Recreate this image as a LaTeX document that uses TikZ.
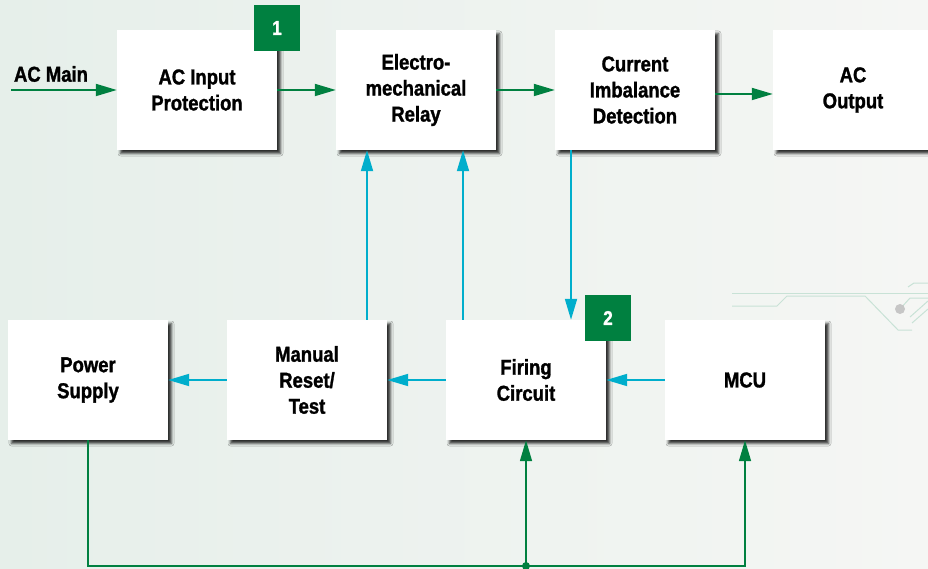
\documentclass[tikz,border=0pt]{standalone}
\usepackage{fontspec}
\newfontfamily\blockfont{Liberation Sans}[FakeStretch=0.86,BoldFeatures={FakeBold=1.3}]
\usetikzlibrary{arrows.meta,shadows.blur}
\definecolor{acgreen}{RGB}{0,128,64}
\definecolor{accyan}{RGB}{0,174,204}
\definecolor{bgleft}{RGB}{230,239,234}
\definecolor{bgright}{RGB}{245,246,244}
\definecolor{trace}{RGB}{200,226,214}
\begin{document}
\begin{tikzpicture}[x=1pt,y=-1pt,
  blk/.style={fill=white,minimum width=160pt,minimum height=120pt,inner sep=0pt,align=center,
    font=\blockfont\bfseries\fontsize{21.5}{26}\selectfont,
    blur shadow={shadow xshift=3.5pt,shadow yshift=-3.5pt,shadow blur radius=2.5pt,shadow opacity=80}},
  badge/.style={fill=acgreen,text=white,minimum size=46pt,inner sep=0pt,
    font=\blockfont\bfseries\fontsize{20}{24}\selectfont},
  garrow/.style={draw=acgreen,line width=1.8pt,-{Triangle[length=21pt,width=12pt]}},
  gline/.style={draw=acgreen,line width=1.5pt},
  carrow/.style={draw=accyan,line width=1.8pt,-{Triangle[length=21pt,width=12pt]}}]
  \clip (0,0) rectangle (928,569);
  \useasboundingbox (0,0) rectangle (928,569);
  \shade[left color=bgleft,right color=bgright] (0,0) rectangle (928,569);
  \draw[trace,line width=1pt] (732,293) -- (928,293);
  \draw[trace,line width=1pt] (732,306) -- (777,306) -- (787,296) -- (865,296) -- (898,330) -- (912,330);
  \draw[trace,line width=1pt] (908,287) -- (914,283) -- (928,283);
  \draw[trace,line width=1pt] (910,317) -- (928,301);
  \draw[trace,line width=1pt] (912,323) -- (928,309);
  \draw[trace,line width=1pt] (900,309) -- (910,298) -- (928,298);
  \fill[gray!45] (900,309) circle (5);
  \node[blk] (aip) at (197,90) {AC Input\\Protection};
  \node[blk] (relay) at (416,90) {Electro-\\mechanical\\Relay};
  \node[blk] (cid) at (635,90) {Current\\Imbalance\\Detection};
  \node[blk] (acout) at (853,90) {AC\\Output};
  \node[blk] (psu) at (88,380) {Power\\Supply};
  \node[blk] (reset) at (307,380) {Manual\\Reset/\\Test};
  \node[blk] (firing) at (526,380) {Firing\\Circuit};
  \node[blk] (mcu) at (745,380) {MCU};
  \node[badge] (b1) at (277,28) {1};
  \node[badge] (b2) at (608,318) {2};
  \coordinate (acin) at (11,90);
  \node[font=\blockfont\bfseries\fontsize{21.5}{26}\selectfont,inner sep=0pt] (acmain) at (51,74) {AC Main};
  \draw[garrow] (acin) -- (aip);
  \draw[garrow] (aip) -- (relay);
  \draw[garrow] (relay) -- (cid);
  \draw[garrow] (cid.east |- 0,94) -- (acout.west |- 0,94);
  \draw[carrow] (367,0 |- reset.north) -- (367,0 |- relay.south);
  \draw[carrow] (463,0 |- firing.north) -- (463,0 |- relay.south);
  \draw[carrow] (571,0 |- cid.south) -- (571,0 |- firing.north);
  \draw[carrow] (mcu) -- (firing);
  \draw[carrow] (firing) -- (reset);
  \draw[carrow] (reset) -- (psu);
  \coordinate (bus) at (526,566);
  \draw[gline] (psu.south) |- (bus);
  \draw[gline,-{Triangle[length=21pt,width=12pt]}] (bus) -| (mcu.south);
  \draw[gline,-{Triangle[length=21pt,width=12pt]}] (bus) -- (firing.south);
  \fill[acgreen] (bus) circle (4);
\end{tikzpicture}
\end{document}
